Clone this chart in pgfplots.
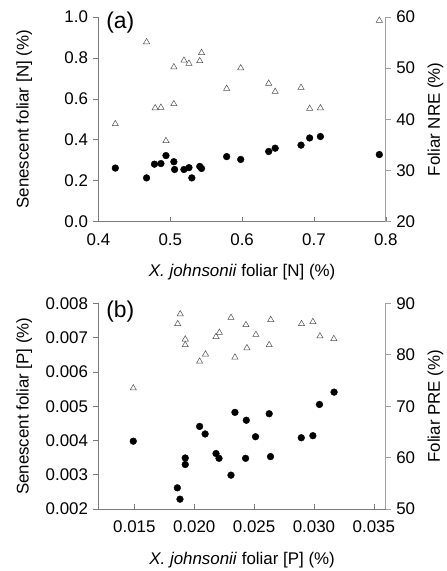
\documentclass[border=0pt]{standalone}
\usepackage{fontspec}
\setmainfont{Liberation Sans}
\usepackage{pgfplots}
\pgfplotsset{compat=1.18}
\usepackage{pgfplotstable}

\definecolor{spine}{HTML}{7A7A7A}
\definecolor{spineR}{HTML}{A0A0A0}
\definecolor{tri}{HTML}{505050}

% panel (a): senescent [N] and NRE against foliar [N]
\pgfplotstableread{
x y
0.4235 0.262
0.467 0.214
0.478 0.281
0.487 0.284
0.494 0.323
0.505 0.293
0.506 0.255
0.519 0.255
0.526 0.264
0.530 0.214
0.541 0.270
0.5435 0.260
0.5785 0.318
0.598 0.304
0.637 0.343
0.646 0.359
0.682 0.374
0.694 0.409
0.709 0.416
0.791 0.328
}\senN

\pgfplotstableread{
x y
0.4235 39.1
0.467 55.1
0.479 42.2
0.487 42.3
0.494 35.8
0.505 50.2
0.505 43.0
0.519 51.5
0.526 50.9
0.541 51.4
0.5435 53.0
0.5785 46.0
0.598 50.0
0.637 47.0
0.646 45.4
0.682 46.2
0.694 42.1
0.709 42.2
0.791 59.3
}\nre

% panel (b): senescent [P] and PRE against foliar [P]
\pgfplotstableread{
x y
0.01491 0.00398
0.01859 0.00262
0.01881 0.00229
0.01925 0.00349
0.01925 0.00330
0.02045 0.00441
0.02091 0.00419
0.02182 0.00362
0.02207 0.00348
0.02307 0.00299
0.02340 0.00482
0.02435 0.00459
0.02429 0.00348
0.02512 0.00411
0.02626 0.00478
0.02637 0.00353
0.02894 0.00408
0.02991 0.00414
0.03046 0.00505
0.03168 0.00541
}\senP

\pgfplotstableread{
x y
0.01491 73.5
0.01883 87.9
0.01862 86.0
0.01925 83.0
0.01925 81.9
0.02045 78.7
0.02094 80.1
0.02182 83.5
0.02210 84.3
0.02307 87.2
0.02340 79.5
0.02432 85.8
0.02440 81.3
0.02515 83.9
0.02639 86.8
0.02626 81.9
0.02896 86.0
0.02991 86.4
0.03050 83.6
0.03166 83.1
}\pre

\pgfplotsset{
  base/.style={
    scale only axis, width=289pt,
    font=\fontsize{17}{20}\selectfont,
    /pgf/number format/assume math mode=true,
    major tick length=5pt,
    tick style={color=spine, line width=0.6pt},
    axis line style={color=spine, line width=0.8pt},
    clip=false,
  },
  leftax/.style={base,
    axis x line*=bottom, axis y line*=left,
    xtick align=inside, ytick align=outside,
    xlabel style={at={(axis description cs:0.5,0)}, anchor=center, yshift=-51pt},
    ylabel style={at={(axis description cs:-0.258,0.5)}, anchor=center},
    yticklabel style={xshift=-2pt},
    xticklabel style={yshift=-8pt},
  },
  rightax/.style={base,
    axis x line=none, axis y line*=right,
    ytick align=outside,
    axis line style={color=spineR, line width=0.8pt},
    tick style={color=spineR, line width=0.6pt},
    ylabel style={at={(axis description cs:1.173,0.5)}, anchor=center},
    yticklabel style={xshift=2pt},
  },
  dots/.style={only marks, mark=*, mark size=3.4pt, mark options={fill=black, draw=black}},
  tris/.style={only marks, mark=triangle, mark size=3.6pt, mark options={draw=tri, line width=0.5pt, fill=white}},
}

\begin{document}
\begin{tikzpicture}
\path (0,0) rectangle (447pt,571pt);

%% ---- panel (a) ----
\begin{axis}[leftax, at={(99pt,348pt)}, anchor=south west, height=206pt,
  xmin=0.4, xmax=0.8, ymin=0, ymax=1.0,
  xtick={0.4,0.5,...,0.8}, ytick={0,0.2,...,1.0},
  xticklabel style={/pgf/number format/.cd, fixed, fixed zerofill, precision=1},
  yticklabel style={/pgf/number format/.cd, fixed, fixed zerofill, precision=1},
  xlabel={\textit{X. johnsonii} foliar [N] (\%)},
  ylabel={Senescent foliar [N] (\%)},
]
\addplot[dots] table[x=x, y=y] {\senN};
\node[font=\fontsize{23}{26}\selectfont] at (rel axis cs:0.076,0.97) {(a)};
\end{axis}
\begin{axis}[rightax, at={(99pt,348pt)}, anchor=south west, height=206pt,
  xmin=0.4, xmax=0.8, ymin=20, ymax=60,
  ytick={20,30,...,60},
  ylabel={Foliar NRE (\%)},
]
\addplot[tris] table[x=x, y=y] {\nre};
\end{axis}

%% ---- panel (b) ----
\begin{axis}[leftax, at={(99pt,59pt)}, anchor=south west, height=207pt,
  xmin=0.012, xmax=0.036, ymin=0.002, ymax=0.008,
  xtick={0.015,0.020,0.025,0.030,0.035},
  ytick={0.002,0.003,...,0.008},
  scaled x ticks=false, scaled y ticks=false,
  xticklabel style={/pgf/number format/.cd, fixed, fixed zerofill, precision=3},
  yticklabel style={/pgf/number format/.cd, fixed, fixed zerofill, precision=3},
  xlabel={\textit{X. johnsonii} foliar [P] (\%)},
  ylabel={Senescent foliar [P] (\%)},
]
\addplot[dots] table[x=x, y=y] {\senP};
\node[font=\fontsize{23}{26}\selectfont] at (rel axis cs:0.076,0.96) {(b)};
\end{axis}
\begin{axis}[rightax, at={(99pt,59pt)}, anchor=south west, height=207pt,
  xmin=0.012, xmax=0.036, ymin=50, ymax=90,
  ytick={50,60,...,90},
  ylabel={Foliar PRE (\%)},
]
\addplot[tris] table[x=x, y=y] {\pre};
\end{axis}
\end{tikzpicture}
\end{document}
